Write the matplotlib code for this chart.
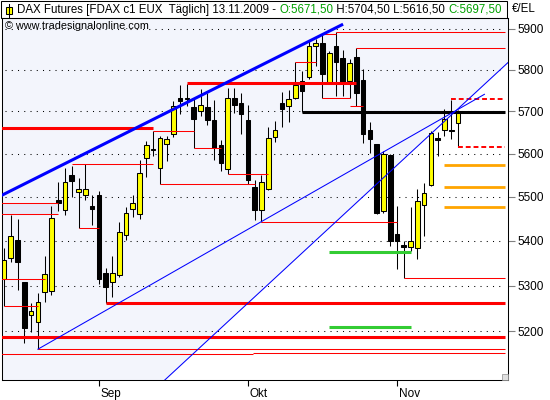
import matplotlib
matplotlib.use("Agg")
import matplotlib.pyplot as plt
import matplotlib.transforms as mtransforms
import pandas as pd
from matplotlib.patches import Rectangle
from matplotlib.lines import Line2D
from matplotlib.ticker import FixedLocator, FixedFormatter, NullLocator

plt.rcParams['font.family'] = ['Liberation Sans', 'DejaVu Sans']

# daily FDAX bars, 12.08.2009 - 13.11.2009
dates = pd.bdate_range("2009-08-12", "2009-11-13")
opens = [5314, 5362, 5401, 5307, 5235, 5220, 5286, 5287, 5492, 5470,
         5550, 5512, 5505, 5480, 5504, 5327, 5307, 5323, 5414, 5473,
         5462, 5591, 5612, 5568, 5624, 5647, 5733, 5729, 5710, 5702,
         5711, 5679, 5621, 5565, 5733, 5719, 5679, 5522, 5470, 5519,
         5640, 5721, 5713, 5733, 5772, 5783, 5858, 5865, 5769, 5857,
         5828, 5772, 5830, 5775, 5655, 5622, 5467, 5598, 5415, 5390,
         5387, 5385, 5481, 5528, 5636, 5656, 5656, 5671.5]
highs = [5384, 5458, 5449, 5308, 5261, 5283, 5365, 5480, 5535, 5568,
         5571, 5543, 5577, 5504, 5514, 5339, 5366, 5442, 5478, 5504,
         5585, 5630, 5653, 5643, 5643, 5725, 5764, 5765, 5733, 5753,
         5744, 5727, 5632, 5755, 5755, 5745, 5715, 5539, 5550, 5664,
         5677, 5747, 5751, 5818, 5798, 5872, 5874, 5888, 5846, 5893,
         5848, 5826, 5852, 5802, 5676, 5624, 5606, 5600, 5480, 5400,
         5476, 5519, 5532, 5653, 5651, 5705, 5728, 5704.5]
lows = [5255, 5352, 5291, 5175, 5199, 5161, 5264, 5280, 5468, 5459,
        5500, 5430, 5492, 5435, 5303, 5262, 5275, 5320, 5403, 5455,
        5449, 5545, 5596, 5529, 5583, 5639, 5693, 5712, 5614, 5689,
        5667, 5585, 5560, 5552, 5697, 5646, 5529, 5447, 5443, 5517,
        5627, 5664, 5675, 5730, 5699, 5777, 5810, 5731, 5768, 5737,
        5737, 5731, 5714, 5626, 5602, 5462, 5464, 5388, 5337, 5316,
        5377, 5359, 5411, 5525, 5595, 5643, 5634, 5616.5]
closes = [5358, 5412, 5352, 5206, 5245, 5263, 5325, 5451, 5485, 5535,
          5536, 5519, 5519, 5473, 5315, 5296, 5327, 5419, 5464, 5485,
          5556, 5621, 5608, 5638, 5635, 5714, 5725, 5731, 5683, 5716,
          5679, 5614, 5579, 5733, 5715, 5695, 5539, 5470, 5535, 5636,
          5655, 5705, 5729, 5763, 5748, 5858, 5866, 5791, 5840, 5818,
          5770, 5816, 5745, 5647, 5634, 5464, 5600, 5400, 5400, 5387,
          5400, 5490, 5510, 5650, 5632, 5681, 5653, 5697.5]

# horizontal levels: (from bar, to bar, price)
red_thick = [(-0.4, 22, 5661), (27, 52, 5767), (15, 74, 5262), (-0.4, 74, 5187)]
red_thin = [(5, 74, 5161), (-0.4, 36.7, 5150.5), (36.7, 74, 5152.5),
            (0, 5, 5255), (-0.4, 6, 5314), (10, 22, 5577), (11, 14, 5430),
            (22, 28, 5653), (23, 37, 5529), (28, 32, 5614), (33, 39, 5552),
            (38, 58, 5443), (43, 46, 5818), (47, 49, 5888), (49, 74, 5893),
            (47, 51, 5731), (51, 53, 5714), (52, 74, 5852), (59, 74, 5316)]
red_dashed = [(66, 74, 5729), (67, 74, 5616.5)]
black_levels = [(44, 74, 5699)]
green_levels = [(48, 60, 5374), (48, 60, 5210)]
orange_levels = [(65, 74, 5574), (65, 74, 5523), (65, 74, 5477)]
zone_box = (-0.4, 8, 5460, 5487)

# trend lines as (bar, price) end points
upper_trend = [(-0.37, 5503.5), (49.84, 5910)]
lower_trend = [(5, 5161), (70.9, 5741)]
steep_trend = [(23.73, 5095), (74.4, 5818)]

yticks = [5200, 5300, 5400, 5500, 5600, 5700, 5800, 5900]
month_names = {9: 'Sep', 10: 'Okt', 11: 'Nov'}

ymin, ymax = 5095, 5927
xmin, xmax = -0.37, 74.38

fig = plt.figure(figsize=(5.5, 4), dpi=100)
ax = fig.add_axes([1.5 / 550, 20 / 400, 506.5 / 550, 362 / 400])
ax.set_yscale('log')
ax.set_xlim(xmin, xmax)
ax.set_ylim(ymin, ymax)
ax.set_facecolor('white')

# tinted area above the steep trend line
ax.fill([xmin, steep_trend[0][0], steep_trend[1][0], xmax, xmax, xmin],
        [ymin, steep_trend[0][1], steep_trend[1][1], steep_trend[1][1], ymax, ymax],
        color='#F3F5FC', lw=0, zorder=0)

# dotted grid
ax.hlines(yticks, 0.2, 74, colors='black', lw=0.75, linestyles=(0, (1, 5)), zorder=1)

x0, x1, b0, b1 = zone_box
ax.add_patch(Rectangle((x0, b0), x1 - x0, b1 - b0, facecolor='#E6E9F8', edgecolor='none', zorder=1))
ax.hlines([b0, b1], x0, x1, colors='red', lw=0.75, zorder=4)

# candles
xs = list(range(len(dates)))
ax.vlines(xs, lows, highs, colors='black', lw=0.75, zorder=2)
bottoms = [min(o, c) for o, c in zip(opens, closes)]
heights = [max(abs(c - o), 0.8) for o, c in zip(opens, closes)]
colors = ['#FFFF00' if c > o else 'black' for o, c in zip(opens, closes)]
ax.bar(xs, heights, bottom=bottoms, width=0.68, color=colors, edgecolor='black', lw=0.75, zorder=3)


def levels(items, **kw):
    for a, b, p in items:
        ax.plot([a, b], [p, p], zorder=4, solid_capstyle='butt', **kw)


levels(red_thin, color='red', lw=0.75)
levels(red_thick, color='red', lw=2.2)
levels(black_levels, color='black', lw=2.2)
levels(green_levels, color='#33CC33', lw=2.2)
levels(orange_levels, color='#FFA500', lw=2.0)
levels(red_dashed, color='red', lw=1.4, ls=(0, (2.5, 1.5)))

for line, w in [(upper_trend, 2.2), (lower_trend, 0.75), (steep_trend, 0.75)]:
    ax.plot([p[0] for p in line], [p[1] for p in line], color='blue', lw=w, zorder=4)

# axes styling
for s in ax.spines.values():
    s.set_color('black')
    s.set_linewidth(0.75)
ax.yaxis.tick_right()
ax.yaxis.set_major_locator(FixedLocator(yticks))
ax.yaxis.set_major_formatter(FixedFormatter([str(v) for v in yticks]))
ax.yaxis.set_minor_locator(NullLocator())
ax.tick_params(axis='y', which='both', length=5, color='#808080', pad=2, labelsize=8.5)

month_ticks = [i for i in range(1, len(dates)) if dates[i].month != dates[i - 1].month]
ax.set_xticks(month_ticks)
ax.set_xticklabels([month_names[dates[i].month] for i in month_ticks])
ax.tick_params(axis='x', length=4, color='black', pad=2, labelsize=8.5)
shift = mtransforms.ScaledTranslation(2 / 100, 0, fig.dpi_scale_trans)
for lbl in ax.get_xticklabels():
    lbl.set_horizontalalignment('left')
    lbl.set_transform(lbl.get_transform() + shift)

# header box
fig.add_artist(Rectangle((1 / 550, 382 / 400), 506 / 550, 17 / 400, transform=fig.transFigure,
                         fill=False, ec='black', lw=0.75))
fig.add_artist(Line2D([9 / 550, 9 / 550], [383 / 400, 396 / 400], transform=fig.transFigure,
                      color='black', lw=0.75))
fig.add_artist(Rectangle((6 / 550, 386 / 400), 6 / 550, 7 / 400, transform=fig.transFigure,
                         facecolor='#FFFF00', ec='black', lw=0.75))

renderer = fig.canvas.get_renderer()
pieces = [("DAX Futures [FDAX c1 EUX  Täglich] 13.11.2009 - ", 'black'),
          ("O:5671,50", '#00A000'),
          (" H:5704,50 L:5616,50 ", 'black'),
          ("C:5697,50", '#00A000')]
tx = 17 / 550
for s, c in pieces:
    t = fig.text(tx, 390.5 / 400, s, color=c, fontsize=8.3, va='center', ha='left')
    bb = t.get_window_extent(renderer)
    tx = bb.x1 / fig.bbox.width

fig.text(512 / 550, 390.5 / 400, "€/EL", fontsize=8.3, va='center', ha='left')
fig.text(5 / 550, 374 / 400, "© www.tradesignalonline.com", fontsize=7.8, va='center', ha='left')

fig.add_artist(Rectangle((502 / 550, 20 / 400), 6 / 550, 6 / 400, transform=fig.transFigure,
                         facecolor='#E0E0E0', ec='#909090', lw=0.5))

fig.savefig("out.png", dpi=100)
